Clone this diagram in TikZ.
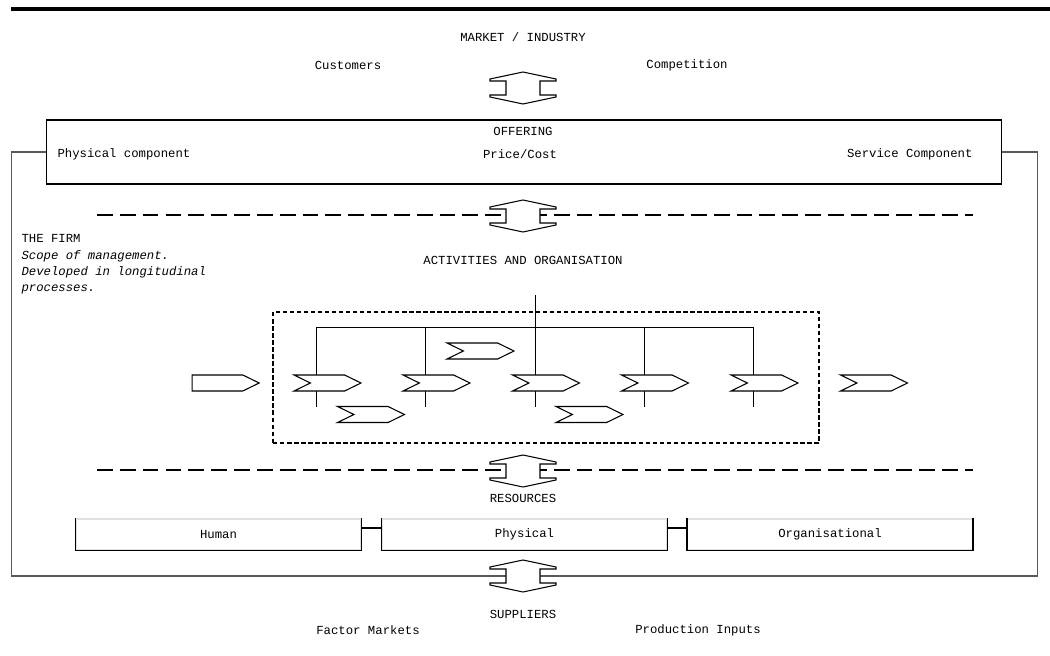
\documentclass[tikz,border=0pt]{standalone}
\usepackage{fontspec}
\setmonofont{Liberation Mono}
\usetikzlibrary{shapes.symbols,backgrounds}

\begin{document}
\begin{tikzpicture}[x=0.02cm,y=-0.02cm,line width=0.6pt,
        every node/.style={font=\ttfamily\fontsize{7}{9.1}\selectfont,inner sep=0pt},
        updown/.pic={\draw[fill=white] (0,-16) -- (33,-9) -- (33,-7) -- (17,-7) -- (17,7)
            -- (33,7) -- (33,9) -- (0,16) -- (-33,9) -- (-33,7) -- (-17,7) -- (-17,-7)
            -- (-33,-7) -- (-33,-9) -- cycle;},
        chev/.style={signal,draw,fill=white,signal from=west,signal to=east,
            signal pointer angle=52,minimum width=1.34cm,minimum height=0.32cm},
        homeplate/.style={chev,signal from=nowhere},
        resbox/.style={draw=black!12,minimum width=5.7cm,minimum height=0.62cm},
        sepline/.style={dash pattern=on 9pt off 4pt,line width=1.2pt}]

    \useasboundingbox (0,0) rectangle (1050,655);
    \draw[line width=2.4pt] (11,9) -- (1050,9);

    \node (market) at (523,37) {MARKET / INDUSTRY};
    \node (cust) at (348,65) {Customers};
    \node (comp) at (687,65) {Competition};
    \pic (a1) at (523,88) {updown};

    \node[draw,minimum width=19.12cm,minimum height=1.28cm] (offer) at (524,152) {};
    \node (offering) at (523,131) {OFFERING};
    \node[anchor=west] (physcomp) at (57,154) {Physical component};
    \node (price) at (520,154) {Price/Cost};
    \node[anchor=east] (servcomp) at (973,154) {Service Component};
    \draw[black!65] (offer.west) -- ++(-34,0) -- ++(0,424) coordinate (fbot)
        -- ++(1026,0) -- ++(0,-424) -- (offer.east);

    \coordinate (s1l) at (97,215);
    \coordinate (s1r) at (973,215);
    \draw[sepline] (s1l) -- (s1r);
    \pic (a2) at (523,216) {updown};

    \node[anchor=west] (firm) at (21,238) {THE FIRM};
    \node[anchor=north west,align=left,font=\ttfamily\itshape\fontsize{7}{9.1}\selectfont]
        (scope) at (21,250) {Scope of management.\\Developed in longitudinal\\processes.};
    \node (act) at (523,260) {ACTIVITIES AND ORGANISATION};

    \node[draw,dash pattern=on 2.5pt off 1.5pt,line width=0.9pt,
        minimum width=10.92cm,minimum height=2.62cm] (actbox) at (546,377.5) {};

    \node[homeplate] (in) at (217.5,383) {};
    \node[chev] (c1) at (327.5,383) {};
    \node[chev] (c2) at (436.5,383) {};
    \node[chev] (c3) at (546,383) {};
    \node[chev] (c4) at (655,383) {};
    \node[chev] (c5) at (764.5,383) {};
    \node[chev] (out) at (874,383) {};
    \node[chev] (u1) at (480.5,351) {};
    \node[chev] (l1) at (371,414.5) {};
    \node[chev] (l2) at (589.5,414.5) {};

    \begin{scope}[on background layer]
        \foreach \i in {1,...,5}
            \draw ([xshift=-0.22cm,yshift=1.12cm]c\i.center) -- ([xshift=-0.22cm,yshift=-0.48cm]c\i.center);
        \draw ([xshift=-0.22cm,yshift=1.12cm]c1.center) -- ([xshift=-0.22cm,yshift=1.12cm]c5.center);
        \draw ([xshift=-0.22cm]c3.center) -- ([xshift=-0.22cm,yshift=1.76cm]c3.center);
    \end{scope}

    \coordinate (s2l) at (97,470);
    \coordinate (s2r) at (973,470);
    \draw[sepline] (s2l) -- (s2r);
    \pic (a3) at (523,471) {updown};
    \node (res) at (523,498) {RESOURCES};

    \node[resbox] (hum) at (218.5,534.5) {Human};
    \node[resbox] (phy) at (524.5,534.5) {Physical};
    \node[resbox] (org) at (830,534.5) {Organisational};
    \foreach \n in {hum,phy,org}
        \draw (\n.north west) |- (\n.south east) -- (\n.north east);
    \draw ([yshift=0.13cm]hum.east) -- ([yshift=0.13cm]phy.west);
    \draw ([yshift=0.13cm]phy.east) -- ([yshift=0.13cm]org.west);

    \pic (a4) at (523,576) {updown};
    \node (supp) at (523,614) {SUPPLIERS};
    \node (factor) at (368,630) {Factor Markets};
    \node (prod) at (698,630) {Production Inputs};

\end{tikzpicture}
\end{document}
